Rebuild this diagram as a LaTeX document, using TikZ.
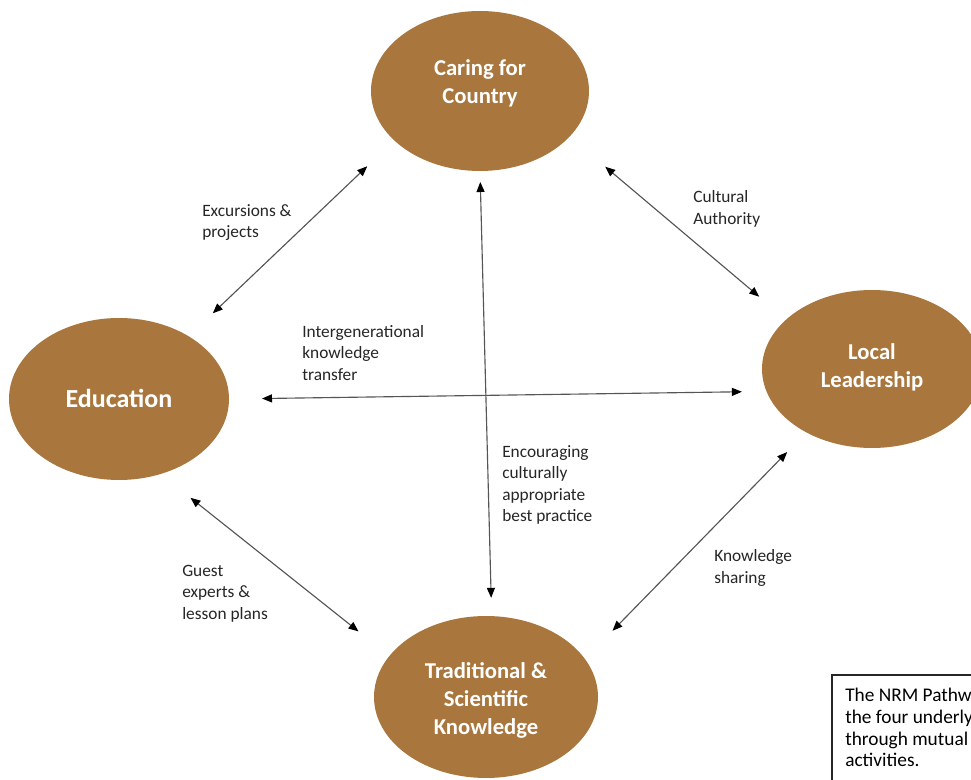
\documentclass[tikz,border=0pt]{standalone}
\usepackage{fontspec}
\setmainfont{Carlito}
\usetikzlibrary{shapes.geometric,arrows.meta}
\definecolor{brownfill}{RGB}{169,119,62}
\definecolor{linegray}{RGB}{85,85,85}
\begin{document}
\begin{tikzpicture}[x=0.75pt,y=-0.75pt,
  blob/.style={ellipse,fill=brownfill,draw=none,inner sep=0pt,outer sep=0pt},
  blobtext/.style={text=white,font=\fontsize{17}{21}\selectfont\bfseries,align=center,inner sep=0pt},
  lbl/.style={anchor=west,align=left,inner sep=0pt,text=black!85,font=\fontsize{13}{16}\selectfont},
  notefont/.style={font=\fontsize{14.5}{16.3}\selectfont,text=black},
  notebox/.style={draw=black!85,line width=1.1pt},
  link/.style={draw=linegray,line width=0.85pt,>={Triangle[length=7.5pt,width=6pt,color=black]},<->}
]
\useasboundingbox (0,0) rectangle (971,780);
\fill[white] (0,0) rectangle (971,780);
\begin{scope}
\clip (0,0) rectangle (971,780);

% ellipses
\node[blob,minimum width=163.5pt,minimum height=120pt] (care) at (480,91) {};
\node[blob,minimum width=165pt,minimum height=121.5pt] (edu) at (119,399) {};
\node[blob,minimum width=165pt,minimum height=118.5pt] (local) at (872,369) {};
\node[blob,minimum width=168pt,minimum height=121.5pt] (trad) at (486,697) {};

\node[blobtext] (careT) at (480,83) {Caring for\\Country};
\node[blobtext,font=\fontsize{19.5}{23}\selectfont\bfseries] (eduT) at (119,398) {Education};
\node[blobtext] (localT) at (872,367.5) {Local\\Leadership};
\node[blobtext] (tradT) at (486,700) {Traditional \&\\Scientific\\Knowledge};

% connectors
\draw[link,shorten <=25pt,shorten >=28.1pt] (edu.42.7) -- (care.210.8);
\draw[link,shorten <=35pt,shorten >=26.5pt] (care.-27.2) -- (local.150.2);
\draw[link,shorten <=24.75pt,shorten >=18.5pt] (edu.0.3) -- (local.192.15);
\draw[link,shorten <=8.25pt,shorten >=13.7pt] (care.-90) -- (trad.86.1);
\draw[link,shorten <=28.65pt,shorten >=29.6pt] (edu.-61.34) -- (trad.157.4);
\draw[link,shorten <=20.6pt,shorten >=29.6pt] (local.224) -- (trad.21.5);

% labels
\node[lbl] (l1) at (202,222.5) {Excursions \&\\projects};
\node[lbl] (l2) at (693,209) {Cultural\\Authority};
\node[lbl] (l3) at (302,353) {Intergenerational\\knowledge\\transfer};
\node[lbl] (l4) at (502,485) {Encouraging\\culturally\\appropriate\\best practice};
\node[lbl] (l5) at (182,593.5) {Guest\\experts \&\\lesson plans};
\node[lbl] (l6) at (714,568) {Knowledge\\sharing};

% note box
\draw[notebox] (832,675) rectangle (1000,800);
\node[lbl,notefont] (note) at (845,727.5) {The NRM Pathw\\the four underly\\through mutual\\activities.};
\end{scope}
\end{tikzpicture}
\end{document}
